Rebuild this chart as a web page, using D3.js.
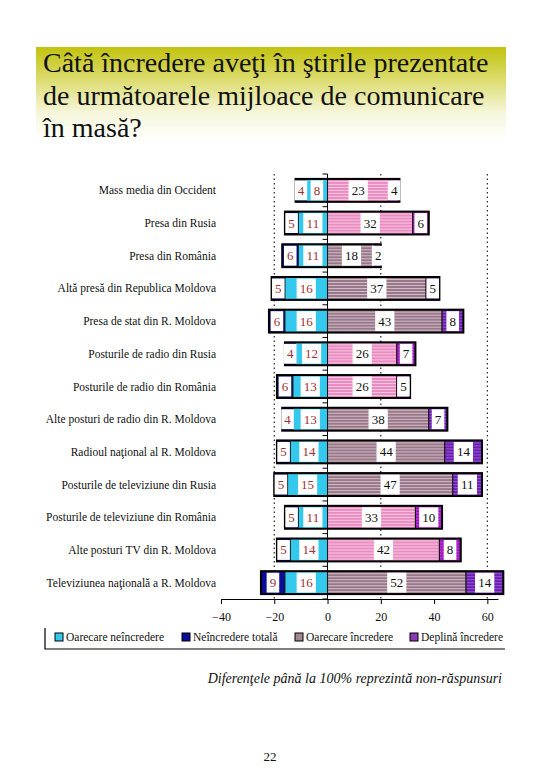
<!DOCTYPE html>
<html>
<head>
<meta charset="utf-8">
<script src="https://cdn.jsdelivr.net/npm/d3@7"></script>
<style>
    body { margin: 0; background: #fff; }
</style>
</head>
<body>
<div id="viz"></div>
<script>
// data
const categories = [
    "Mass media din Occident",
    "Presa din Rusia",
    "Presa din România",
    "Altă presă din Republica Moldova",
    "Presa de stat din R. Moldova",
    "Posturile de radio din Rusia",
    "Posturile de radio din România",
    "Alte posturi de radio din R. Moldova",
    "Radioul naţional al R. Moldova",
    "Posturile de televiziune din Rusia",
    "Posturile de televiziune din România",
    "Alte posturi TV din R. Moldova",
    "Televiziunea naţională a R. Moldova"
]
const total_distrust = [4, 5, 6, 5, 6, 4, 6, 4, 5, 5, 5, 5, 9]
const some_distrust = [8, 11, 11, 16, 16, 12, 13, 13, 14, 15, 11, 14, 16]
const some_trust = [23, 32, 18, 37, 43, 26, 26, 38, 44, 47, 33, 42, 52]
const full_trust = [4, 6, 2, 5, 8, 7, 5, 7, 14, 11, 10, 8, 14]
const series_names = ["Oarecare neîncredere", "Neîncredere totală", "Oarecare încredere", "Deplină încredere"]
const x_ticks = [-40, -20, 0, 20, 40, 60]
const grid_ticks = [-20, 20, 60]
const title_lines = [
    "Câtă încredere aveţi în ştirile prezentate",
    "de următoarele mijloace de comunicare",
    "în masă?"
]
const footnote = "Diferenţele până la 100% reprezintă non-răspunsuri"
const page_number = "22"

// styling
const width = 540
const height = 780
const serif = '"Liberation Serif"'
const pink_rows = [0, 1, 5, 6, 10, 11]   // rows drawn with the pink fill in the original
const col_cyan = "#33c8ec"
const col_navy = "#0c0c9c"

const svg = d3.select("#viz")
    .append("svg")
        .attr("width", width)
        .attr("height", height)

const defs = svg.append("defs")

// title gradient
const grad = defs.append("linearGradient")
    .attr("id", "title_grad")
    .attr("x1", 0).attr("y1", 0).attr("x2", 0).attr("y2", 1)
grad.append("stop").attr("offset", "0%").attr("stop-color", "#c2c20e")
grad.append("stop").attr("offset", "35%").attr("stop-color", "#dcdc70")
grad.append("stop").attr("offset", "70%").attr("stop-color", "#f6f6dc")
grad.append("stop").attr("offset", "100%").attr("stop-color", "#ffffff")

// striped fills
function stripePattern(id, base, stripe) {
    const p = defs.append("pattern")
        .attr("id", id)
        .attr("patternUnits", "userSpaceOnUse")
        .attr("width", 6)
        .attr("height", 3)
    p.append("rect").attr("width", 6).attr("height", 3).attr("fill", base)
    p.append("rect").attr("y", 2).attr("width", 6).attr("height", 1).attr("fill", stripe)
}
stripePattern("pink", "#e98cc2", "#f9c6e0")
stripePattern("mauve", "#987888", "#d2bcc8")
stripePattern("purple_a", "#c02ad6", "#7a16aa")
stripePattern("purple_b", "#6a1eae", "#9a54da")

svg.append("rect")
    .attr("x", 36)
    .attr("y", 47)
    .attr("width", 470)
    .attr("height", 94)
    .attr("fill", "url(#title_grad)")

svg.append("g")
    .selectAll("text")
    .data(title_lines)
    .join("text")
        .attr("x", 43)
        .attr("y", (d, i) => 72 + i * 32.5)
        .style("font-family", serif)
        .style("font-size", "28px")
        .attr("fill", "#111")
        .text(d => d)

// scales
const x = d3.scaleLinear()
    .domain([-40, 64])
    .range([221, 498])
const y = d3.scaleBand()
    .domain(categories)
    .range([174, 599])
    .paddingInner(0.3)
    .paddingOuter(0.15)

const rows = categories.map((c, i) => ({
    name: c,
    idx: i,
    segs: [
        {key: "navy", from: -(total_distrust[i] + some_distrust[i]), to: -some_distrust[i], v: total_distrust[i], neg: true},
        {key: "cyan", from: -some_distrust[i], to: 0, v: some_distrust[i], neg: true},
        {key: "trust", from: 0, to: some_trust[i], v: some_trust[i], neg: false},
        {key: "full", from: some_trust[i], to: some_trust[i] + full_trust[i], v: full_trust[i], neg: false}
    ]
}))

function segFill(seg, row) {
    const pink = pink_rows.includes(row.idx)
    if (seg.key == "navy") return col_navy
    if (seg.key == "cyan") return col_cyan
    if (seg.key == "trust") return pink ? "url(#pink)" : "url(#mauve)"
    return pink ? "url(#purple_a)" : "url(#purple_b)"
}

// dotted gridlines
svg.append("g")
    .selectAll("line")
    .data(grid_ticks)
    .join("line")
        .attr("x1", d => x(d))
        .attr("x2", d => x(d))
        .attr("y1", 174)
        .attr("y2", 599)
        .attr("stroke", "#222")
        .attr("stroke-width", 1.2)
        .attr("stroke-dasharray", "1.5,3")

// y axis at 0 with ticks between categories
const y_axis = svg.append("g")
y_axis.append("line")
    .attr("x1", x(0)).attr("x2", x(0))
    .attr("y1", 174).attr("y2", 599)
    .attr("stroke", "#000")
y_axis.selectAll("line.tk")
    .data(d3.range(categories.length + 1))
    .join("line")
        .attr("class", "tk")
        .attr("x1", x(0) - 5).attr("x2", x(0))
        .attr("y1", i => 174 + i * y.step())
        .attr("y2", i => 174 + i * y.step())
        .attr("stroke", "#000")

// bars
const bar = svg.append("g")
    .selectAll("g")
    .data(rows)
    .join("g")
        .attr("transform", d => `translate(0, ${y(d.name)})`)

bar.selectAll("rect.seg")
    .data(d => d.segs.map(s => ({...s, row: d})))
    .join("rect")
        .attr("class", "seg")
        .attr("x", d => x(d.from))
        .attr("width", d => x(d.to) - x(d.from))
        .attr("height", y.bandwidth())
        .attr("fill", d => segFill(d, d.row))
        .attr("stroke", "#111")
        .attr("stroke-width", 1)

bar.append("rect")
    .attr("x", d => x(d.segs[0].from))
    .attr("width", d => x(d.segs[3].to) - x(d.segs[0].from))
    .attr("height", y.bandwidth())
    .attr("fill", "none")
    .attr("stroke", "#000")
    .attr("stroke-width", 2)

// value labels in white boxes
const lab = bar.selectAll("g.lab")
    .data(d => d.segs)
    .join("g")
        .attr("class", "lab")
        .attr("transform", d => `translate(${x((d.from + d.to) / 2)}, 0)`)
lab.append("rect")
    .attr("x", d => -(String(d.v).length * 3.3 + 3))
    .attr("y", 1.5)
    .attr("width", d => String(d.v).length * 6.6 + 6)
    .attr("height", y.bandwidth() - 3)
    .attr("fill", "#fff")
lab.append("text")
    .attr("y", y.bandwidth() / 2 + 4.5)
    .attr("text-anchor", "middle")
    .style("font-family", serif)
    .style("font-size", "13px")
    .attr("fill", d => d.neg ? "#a03034" : "#111")
    .text(d => d.v)

// category labels
svg.append("g")
    .selectAll("text")
    .data(categories)
    .join("text")
        .attr("x", 216)
        .attr("y", d => y(d) + y.bandwidth() / 2 + 4)
        .attr("text-anchor", "end")
        .style("font-family", serif)
        .style("font-size", "11.5px")
        .attr("fill", "#111")
        .text(d => d)

// x axis
svg.append("g")
    .attr("transform", "translate(0, 599)")
    .call(d3.axisBottom(x)
        .tickValues(x_ticks)
        .tickSize(5)
        .tickSizeOuter(0)
        .tickPadding(8))
    .call(g => g.select(".domain").attr("stroke", "#000"))
    .call(g => g.selectAll("text")
        .style("font-family", serif)
        .style("font-size", "12px")
        .attr("fill", "#111"))

// legend
const legend_x = [55, 182, 295, 410]
const legend_col = [col_cyan, col_navy, "#a08890", "#8a3ab4"]
const legend = svg.append("g")
legend.append("path")
    .attr("d", "M45,628 V649 H505")
    .attr("fill", "none")
    .attr("stroke", "#000")
    .attr("stroke-width", 1.2)
const li = legend.selectAll("g")
    .data(series_names)
    .join("g")
        .attr("transform", (d, i) => `translate(${legend_x[i]}, 641)`)
li.append("rect")
    .attr("x", 0).attr("y", -8)
    .attr("width", 8).attr("height", 8)
    .attr("fill", (d, i) => legend_col[i])
    .attr("stroke", "#000")
li.append("text")
    .attr("x", 11)
    .attr("y", 0)
    .style("font-family", serif)
    .style("font-size", "11.5px")
    .attr("fill", "#111")
    .text(d => d)

// footnote and page number
svg.append("text")
    .attr("x", 502)
    .attr("y", 683)
    .attr("text-anchor", "end")
    .style("font-family", serif)
    .style("font-size", "14px")
    .style("font-style", "italic")
    .attr("fill", "#111")
    .text(footnote)

svg.append("text")
    .attr("x", 270)
    .attr("y", 761)
    .attr("text-anchor", "middle")
    .style("font-family", serif)
    .style("font-size", "13px")
    .attr("fill", "#111")
    .text(page_number)
</script>
</body>
</html>
